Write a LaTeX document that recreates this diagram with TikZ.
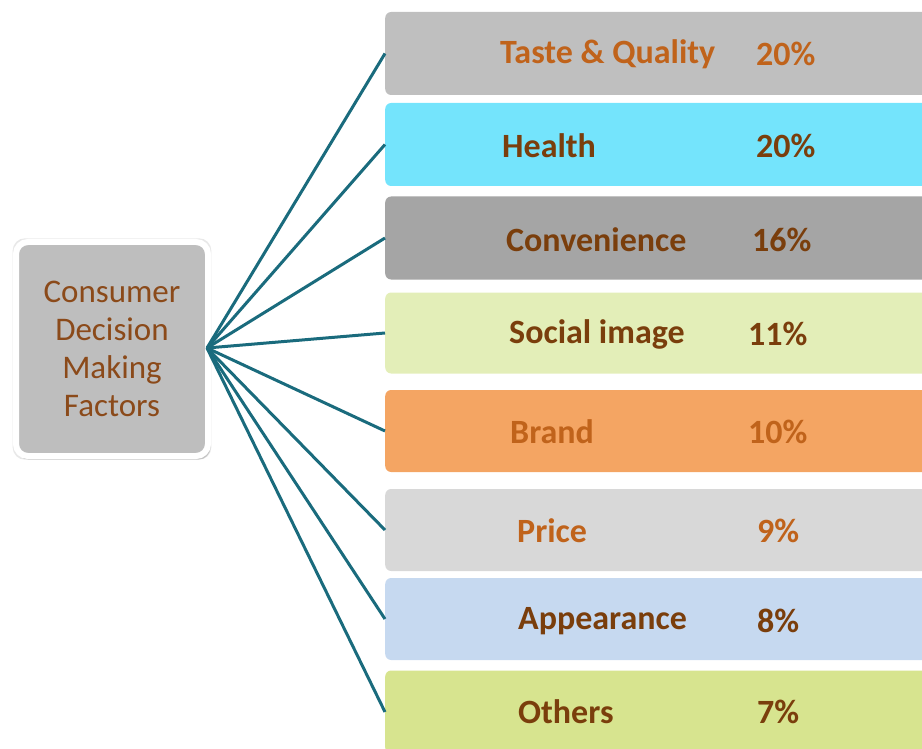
\documentclass[tikz,border=0pt]{standalone}
\usepackage{fontspec}
\setmainfont{Carlito}
\usetikzlibrary{shapes,shadows}
\definecolor{tealline}{HTML}{1A6B7D}
\definecolor{hubgray}{HTML}{BEBEBE}
\definecolor{hubtext}{HTML}{8B4A1A}
\definecolor{orangetext}{HTML}{C0631B}
\definecolor{browntext}{HTML}{7A3E0C}
\definecolor{tastefill}{HTML}{BFBFBF}
\definecolor{healthfill}{HTML}{74E4FC}
\definecolor{convfill}{HTML}{A5A5A5}
\definecolor{socialfill}{HTML}{E3EEB8}
\definecolor{brandfill}{HTML}{F4A563}
\definecolor{pricefill}{HTML}{D8D8D8}
\definecolor{appearfill}{HTML}{C6D9F0}
\definecolor{othersfill}{HTML}{D7E48F}

\begin{document}
\begin{tikzpicture}[x=1pt, y=-1pt, line join=miter]

	\tikzstyle{bar}=[anchor=west, rectangle, rounded corners=6pt, minimum width=560pt, minimum height=83pt, inner sep=0pt]
	\tikzstyle{label}=[anchor=west, inner sep=0pt, font=\fontsize{34}{40}\selectfont\bfseries]
	\tikzstyle{spoke}=[draw=tealline, line width=3pt]
	\def\lx{385}

	\useasboundingbox (0,0) rectangle (922,749);
	\clip (0,0) rectangle (922,749);

	% hub
	\node [rectangle, rounded corners=12pt, fill=hubgray, draw=white, line width=6pt,
	  minimum width=192pt, minimum height=214pt, text=hubtext, align=center,
	  font=\fontsize{33}{38}\selectfont,
	  drop shadow={opacity=0.18, shadow xshift=0pt, shadow yshift=0pt, shadow scale=1.035},
	  drop shadow={opacity=0.35, shadow xshift=1.5pt, shadow yshift=-2.5pt, shadow scale=1.01}]
	  (hub) at (112,349) {Consumer\\Decision\\Making\\Factors};

	% factor bars
	\node [bar, fill=tastefill]  (taste)  at (\lx,53.5)  {};
	\node [bar, fill=healthfill] (health) at (\lx,144.5) {};
	\node [bar, fill=convfill]   (conv)   at (\lx,238)   {};
	\node [bar, fill=socialfill, minimum height=81pt] (social) at (\lx,333) {};
	\node [bar, fill=brandfill, minimum height=82pt]  (brand)  at (\lx,431) {};
	\node [bar, fill=pricefill, minimum height=82pt]  (price)  at (\lx,530) {};
	\node [bar, fill=appearfill, minimum height=82pt] (appear) at (\lx,619) {};
	\node [bar, fill=othersfill] (others) at (\lx,712) {};

	% texts
	\node [label, text=orangetext] (tastel) at (500,54)  {Taste \& Quality};
	\node [label, text=orangetext] (tastep) at (756,54)  {20\%};
	\node [label, text=browntext]  (healthl) at (502,146) {Health};
	\node [label, text=browntext]  (healthp) at (756,146) {20\%};
	\node [label, text=browntext]  (convl) at (506,240) {Convenience};
	\node [label, text=browntext]  (convp) at (752,240) {16\%};
	\node [label, text=browntext]  (sociall) at (509,334) {Social image};
	\node [label, text=browntext]  (socialp) at (748,334) {11\%};
	\node [label, text=orangetext] (brandl) at (510,432) {Brand};
	\node [label, text=orangetext] (brandp) at (748,432) {10\%};
	\node [label, text=orangetext] (pricel) at (517,531) {Price};
	\node [label, text=orangetext] (pricep) at (757,531) {9\%};
	\node [label, text=browntext]  (appearl) at (518,621) {Appearance};
	\node [label, text=browntext]  (appearp) at (757,621) {8\%};
	\node [label, text=browntext]  (othersl) at (518,712) {Others};
	\node [label, text=browntext]  (othersp) at (757,712) {7\%};

	% spokes
	\coordinate (hubpt) at (207,348);
	\draw [spoke] (hubpt) -- (taste.west);
	\draw [spoke] (hubpt) -- (health.west);
	\draw [spoke] (hubpt) -- (conv.west);
	\draw [spoke] (hubpt) -- (social.west);
	\draw [spoke] (hubpt) -- (brand.west);
	\draw [spoke] (hubpt) -- (price.west);
	\draw [spoke] (hubpt) -- (appear.west);
	\draw [spoke] (hubpt) -- (others.west);

\end{tikzpicture}
\end{document}
